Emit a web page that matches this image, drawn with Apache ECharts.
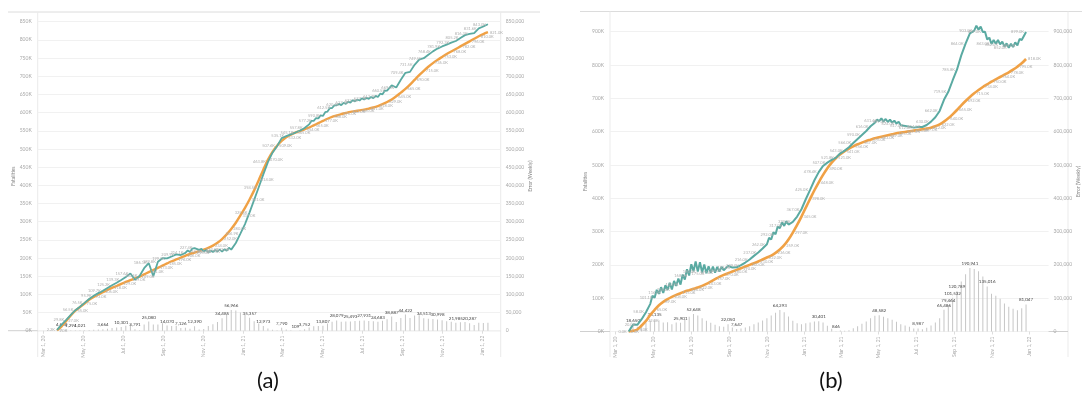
<!DOCTYPE html>
<html>
<head>
<meta charset="utf-8">
<script src="https://cdn.jsdelivr.net/npm/echarts@6/dist/echarts.min.js"></script>
<style>
  html, body { margin: 0; padding: 0; background: #ffffff; }
  #chart { width: 1082px; height: 396px; }
</style>
</head>
<body>
<div id="chart"></div>
<script>
// Weekly series, first week starts 2020-03-22. Lines in thousands of fatalities, error bars in fatalities.
const weekStart = '2020-03-22';

// Panel (a)
const forecastA = [2.2,16.65,29.8,43.294,56.5,66.021,76.5,87.2,95.9,103.3,
  109.664,117.6,125.2,131.8,139.301,147.5,157.6,140.209,150.5,172,
  186.08,149.8,189.8,199.5,199.07,204.2,209.9,208.126,214.1,216.2,
  227.39,222.5,218,215.2,216.5,218,217.515,219.8,223.034,241.2,
  266.9,293.2,325.643,360,394.5,430.027,463.8,489.7,507.6,529.79,
  535.1,540.2,545.109,550.3,557.752,567.6,577.2,584.1,590.807,602.8,
  612.5,620.079,620.6,624.1,627.493,630.8,633.3,635.931,637.7,639.9,
  642.683,650.2,660.5,674.887,669,690.2,709.422,712,731.5,745.7,
  749.513,759.2,768.4,775.998,781.9,787.1,792.3,796.985,805.2,813.1,
  816.287,818.4,831.6,836.9,843];
// mid-week readings of the forecast where it swings within the week (week index -> value)
const forecastAMidweek = {28: 221, 29: 226, 31: 225, 32: 222, 33: 221, 34: 222, 35: 223, 36: 224, 37: 228,
  55: 577, 56: 585, 57: 592, 58: 601, 59: 612, 60: 620, 61: 624, 62: 627, 63: 630, 64: 634,
  65: 636, 66: 639, 67: 641, 68: 643, 69: 646, 70: 652, 71: 660};
const actualA = [1,12,27,42,55,65,75,85,93,100,
  106,112,118,123,129,134,139,144,149,155,
  161,167,173,179,185,191,196,201,206,211,
  215,219,223,228,234,242,252,265,280,297,
  317,338,361,386,414,443,470,492,509,522,
  532,539,545,549,554,559,565,571,577,583,
  588,592,596,599,602,604,606,608,611,614,
  618,623,629,636,645,655,665,677,690,703,
  715,726,736,745,753,761,768,775,782,789,
  796,803,810,816,821];
const errorA = [1200,4650,2800,1294,1500,1021,1500,2200,2900,3300,
  3664,5600,7200,8800,10301,13500,18600,3791,1500,17000,
  25080,17200,16800,20500,14070,13200,13900,7126,8100,5200,
  12390,3500,5000,12800,17500,24000,34485,45200,56966,55800,
  50100,44800,35357,26000,19500,12973,6200,2300,1400,7790,
  3100,1200,109,1300,3752,8600,12200,13100,13807,19800,
  24500,28079,24600,25100,25493,26800,27300,27931,26700,25900,
  24683,27200,31500,38887,24000,35200,44422,35000,41500,42700,
  34513,33200,32400,30998,28900,26100,24300,21985,23200,24100,
  20287,15400,21600,20900,22000];
const errorLabelWeeksA = [1,3,5,10,14,17,20,24,27,30,36,38,42,45,49,52,54,58,61,64,67,70,73,76,80,83,87,90];

// Panel (b)
const forecastB = [0,20.65,20,37,58,83,101.135,113,116,125,
  126,137,140.901,156,168,180.648,180,177,175,176,
  177,180,184,197.05,192,192.647,199,207,216,227,
  237,249,262,276,292,310.293,317,321,329,345,
  367,397,425,454,478.401,497,507,515,521.846,535,
  543,553,566,578,590,602,616,627,631.582,630,
  629,627,624,619,617,615,612,613.987,614,620,
  630,643,662,695.486,719.464,753.532,785.789,829,864,894.941,
  903,906,899,877.016,863,864,862,855,852,854,
  859,875,899.047];
const forecastBMidweek = {5: 107, 6: 125, 7: 133, 8: 139, 9: 146, 10: 152, 11: 159, 12: 171, 13: 187,
  14: 202, 15: 210, 16: 208, 17: 201, 18: 196, 19: 195, 20: 194, 21: 194,
  32: 281, 33: 298, 34: 315, 35: 328, 36: 331,
  57: 636, 58: 640, 59: 638, 60: 636, 61: 633, 62: 630,
  80: 918, 81: 915, 82: 900, 83: 882, 84: 875, 85: 875, 86: 870, 87: 865, 88: 864, 89: 868, 90: 878};
const actualB = [0,2,6,18,32,50,65,79,89,97,
  104,110,115,120,124,128,132,137,143,150,
  157,164,170,175,180,185,190,195,200,205,
  210,216,222,228,236,246,259,276,297,320,
  345,372,398,424,448,470,490,507,521,532,
  541,549,556,562,567,572,576,580,583,586,
  589,592,595,597,599,601,603,605,607,609,
  612,616,622,630,640,652,665,679,692,704,
  715,725,734,742,750,757,764,771,778,786,
  795,805,818];
const errorB = [0,18650,14000,19000,26000,33000,36135,34000,27000,28000,
  22000,27000,25901,36000,44000,52648,48000,40000,32000,26000,
  20000,16000,14000,22050,12000,7647,9000,12000,16000,22000,
  27000,33000,40000,48000,56000,64293,58000,45000,32000,25000,
  22000,25000,27000,30000,30401,27000,17000,8000,846,3000,
  2000,4000,10000,16000,23000,30000,40000,47000,48582,44000,
  40000,35000,29000,22000,18000,14000,9000,8987,7000,11000,
  18000,27000,40000,65486,79464,101532,120789,150000,172000,190941,
  188000,181000,165000,135016,113000,107000,98000,84000,74000,68000,
  64000,70000,81047];
const errorLabelWeeksB = [1,6,12,15,23,25,35,44,48,58,67,73,74,75,76,79,83,92];

// Axis ticks
const dateTicks = ['2020-03-01','2020-05-01','2020-07-01','2020-09-01','2020-11-01','2021-01-01',
  '2021-03-01','2021-05-01','2021-07-01','2021-09-01','2021-11-01','2022-01-01'];
const yTopA = 850, yStepA = 50;
const yTopB = 900, yStepB = 100;

const DAY = 86400000;
const MONTHS = ['Jan','Feb','Mar','Apr','May','Jun','Jul','Aug','Sep','Oct','Nov','Dec'];
const t0 = Date.parse(weekStart + 'T00:00:00Z');
const ref = Date.parse('2020-03-01T00:00:00Z');
const tickTimes = dateTicks.map(d => Date.parse(d + 'T00:00:00Z'));
const weekTime = i => t0 + i * 7 * DAY;
const fmtDate = v => {
  const d = new Date(v);
  return MONTHS[d.getUTCMonth()] + ' ' + d.getUTCDate() + ', ' + String(d.getUTCFullYear()).slice(2);
};
const fmtInt = v => Math.round(v).toLocaleString('en-US');

const TEAL = '#5aaaa2', ORANGE = '#f0a145', GREY_TXT = '#a8a8a8';
const FONT = 'Lato';

// Dates are plotted on a numeric axis (ms since epoch) with explicit month ticks.
function xAxisFor(grid, minDays, maxDays) {
  return {
    type: 'value', gridIndex: grid, scale: true,
    min: ref + minDays * DAY, max: ref + maxDays * DAY,
    axisLine: { show: false },
    axisTick: { show: true, customValues: tickTimes, length: 3, lineStyle: { color: '#dddddd' } },
    splitLine: { show: false },
    axisLabel: {
      customValues: tickTimes, rotate: 90, fontSize: 5, color: GREY_TXT,
      fontFamily: FONT, margin: 5, formatter: v => fmtDate(v)
    }
  };
}

function leftAxisFor(grid, top, step) {
  return {
    type: 'value', gridIndex: grid, min: 0, max: top, interval: step,
    name: 'Fatalities', nameLocation: 'middle', nameRotate: 90, nameGap: 17,
    nameTextStyle: { fontSize: 5, color: '#888888', fontFamily: FONT },
    axisLine: { show: false }, axisTick: { show: false },
    axisLabel: { fontSize: 5, color: GREY_TXT, fontFamily: FONT, margin: 6, formatter: v => v + 'K' },
    splitLine: { show: true, lineStyle: { color: '#f1f1f1', width: 1 } }
  };
}

function rightAxisFor(grid, top, step, title) {
  return {
    type: 'value', gridIndex: grid, position: 'right', min: 0, max: top * 1000, interval: step * 1000,
    name: title, nameLocation: 'middle', nameRotate: 90, nameGap: 27,
    nameTextStyle: { fontSize: 5, color: '#888888', fontFamily: FONT },
    axisLine: { show: false }, axisTick: { show: false },
    axisLabel: { fontSize: 5, color: GREY_TXT, fontFamily: FONT, margin: 5, formatter: v => fmtInt(v) },
    splitLine: { show: false }
  };
}

// Weekly points (labelled every other week) plus optional mid-week points.
function pointsOf(values, midweek) {
  const pts = [];
  values.forEach((v, i) => {
    pts.push({ value: [weekTime(i), v], label: { show: i % 2 === 0 } });
    if (midweek && midweek[i] != null) {
      pts.push({ value: [weekTime(i) + 3.5 * DAY, midweek[i]], label: { show: false } });
    }
  });
  return pts;
}

function lineSeries(name, values, midweek, xIdx, yIdx, color, width, smooth, labelPos) {
  return {
    name, type: 'line', xAxisIndex: xIdx, yAxisIndex: yIdx, z: 3, clip: false,
    data: pointsOf(values, midweek),
    smooth, symbol: 'circle', symbolSize: 0.1, showSymbol: true,
    itemStyle: { color }, lineStyle: { color, width },
    label: {
      position: labelPos, distance: 2, fontSize: 4, color: '#b0b0b0', fontFamily: FONT,
      formatter: p => p.value[1].toFixed(1) + 'K'
    },
    emphasis: { disabled: true }, animation: false
  };
}

function barSeries(values, labelled, xIdx, yIdx) {
  return {
    type: 'bar', xAxisIndex: xIdx, yAxisIndex: yIdx, z: 1, barWidth: 1,
    itemStyle: { color: '#c6c6c6' },
    data: values.map((v, i) => ({
      value: [weekTime(i), v],
      label: {
        show: labelled.includes(i), position: 'top', distance: 2, fontSize: 4.5,
        color: '#444444', fontFamily: FONT, formatter: p => fmtInt(p.value[1])
      }
    })),
    emphasis: { disabled: true }, animation: false
  };
}

const hLine = (x1, x2, y, color) => ({ type: 'line', shape: { x1, y1: y, x2, y2: y }, style: { stroke: color, lineWidth: 1 }, z: 0 });
const vLine = (x, y1, y2, color) => ({ type: 'line', shape: { x1: x, y1, x2: x, y2 }, style: { stroke: color, lineWidth: 1 }, z: 0 });

const chart = echarts.init(document.getElementById('chart'), null, { renderer: 'canvas' });
chart.setOption({
  animation: false,
  backgroundColor: '#ffffff',
  grid: [
    { left: 37.7, right: 581.3, top: 21.7, bottom: 65.3 },
    { left: 610, right: 14, top: 31.7, bottom: 64.5 }
  ],
  xAxis: [xAxisFor(0, -8.55, 698.5), xAxisFor(1, -9.3, 701.5)],
  yAxis: [
    leftAxisFor(0, yTopA, yStepA),
    rightAxisFor(0, yTopA, yStepA, 'Error (Weekly)'),
    leftAxisFor(1, yTopB, yStepB),
    rightAxisFor(1, yTopB, yStepB, 'Error (Weekly)')
  ],
  series: [
    barSeries(errorA, errorLabelWeeksA, 0, 1),
    lineSeries('Reported', actualA, null, 0, 0, ORANGE, 2.4, 0.3, 'right'),
    lineSeries('Forecast', forecastA, forecastAMidweek, 0, 0, TEAL, 1.8, false, 'left'),
    barSeries(errorB, errorLabelWeeksB, 1, 3),
    lineSeries('Reported', actualB, null, 1, 2, ORANGE, 2.6, 0.3, 'right'),
    lineSeries('Forecast', forecastB, forecastBMidweek, 1, 2, TEAL, 2, false, 'left')
  ],
  graphic: [
    hLine(8, 540, 12, '#dcdcdc'),
    vLine(37.7, 12, 357, '#ebebeb'),
    vLine(500.7, 12, 357, '#ebebeb'),
    hLine(8, 500.7, 330.7, '#d0d0d0'),
    hLine(580, 1082, 11.5, '#dcdcdc'),
    vLine(610, 11.5, 357, '#ebebeb'),
    vLine(1068, 11.5, 357, '#ebebeb'),
    hLine(580, 1068, 331.5, '#d0d0d0'),
    { type: 'text', x: 268, y: 381, style: { text: '(a)', fontSize: 22, fontFamily: FONT, fill: '#111111', textAlign: 'center', textVerticalAlign: 'middle' } },
    { type: 'text', x: 831, y: 381, style: { text: '(b)', fontSize: 22, fontFamily: FONT, fill: '#111111', textAlign: 'center', textVerticalAlign: 'middle' } }
  ]
});
</script>
</body>
</html>
